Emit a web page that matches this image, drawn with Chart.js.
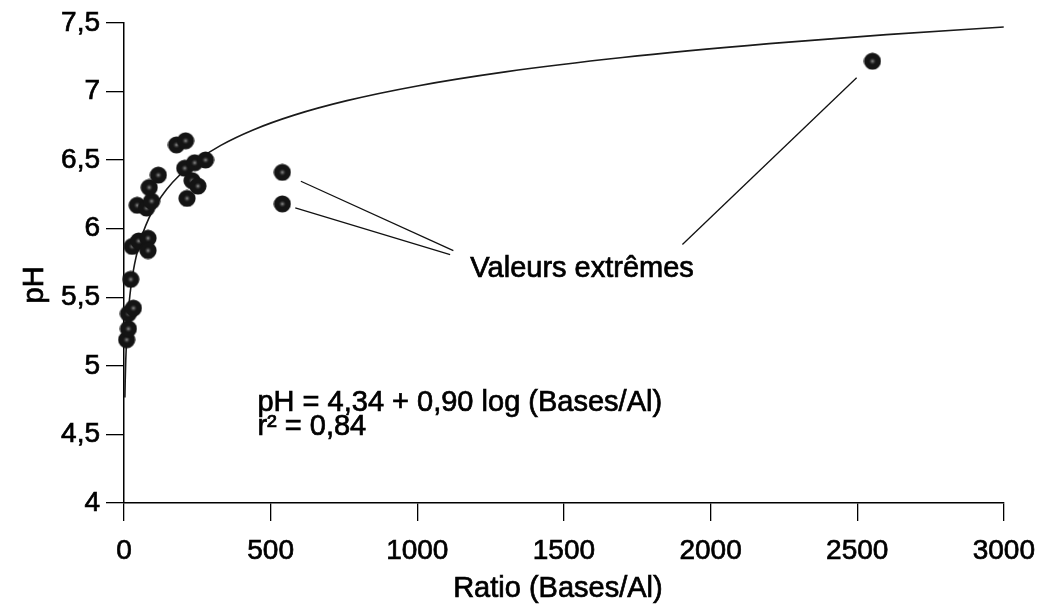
<!DOCTYPE html>
<html>
<head>
<meta charset="utf-8">
<script src="https://cdn.jsdelivr.net/npm/chart.js@4.4.0/dist/chart.umd.min.js"></script>
<style>
  html, body { margin: 0; padding: 0; background: #fff; }
  #wrap { width: 1048px; height: 610px; }
</style>
</head>
<body>
<div id="wrap"><canvas id="phChart"></canvas></div>
<script>
// samples: exchangeable bases / Al ratio against soil pH
const ratio = [9, 15, 15, 32, 23, 28, 50, 82, 82, 45, 77, 94, 86, 117, 179, 210, 207, 215, 232, 252, 241, 278, 540, 540, 2552];
const ph = [5.19, 5.27, 5.38, 5.42, 5.63, 5.87, 5.91, 5.93, 5.84, 6.17, 6.15, 6.20, 6.30, 6.39, 6.61, 6.64, 6.44, 6.22, 6.35, 6.31, 6.48, 6.50, 6.41, 6.18, 7.22];

// fitted curve pH = 4,34 + 0,90 log(ratio)
const fitA = 4.34;
const fitB = 0.90;
const curveRatio = [3, 4, 6, 8, 11, 15, 20, 27, 36, 48, 64, 85, 110, 145, 190, 250, 330, 440, 580, 760, 1000, 1300, 1700, 2200, 2600, 3000];

const xTicks = [0, 500, 1000, 1500, 2000, 2500, 3000];
const yTicks = [4, 4.5, 5, 5.5, 6, 6.5, 7, 7.5];

// leader lines for the outlying samples, in axis units
const leaderFrom = [[603, 6.345], [584, 6.151], [1904, 5.884]];
const leaderTo = [[1123, 5.84], [1112, 5.81], [2498, 7.10]];
const outlierLabel = 'Valeurs extrêmes';
const outlierLabelAt = [1181, 5.644];
const fitLines = ['pH = 4,34 + 0,90 log (Bases/Al)', 'r² = 0,84'];
const fitLinesAt = [[455, 4.669], [455, 4.494]];
const xTitle = 'Ratio (Bases/Al)';
const yTitle = 'pH';

const FONT = '"Liberation Sans", Arial, Helvetica, sans-serif';

function dotImage() {
  const c = document.createElement('canvas');
  c.width = 18; c.height = 18;
  const g = c.getContext('2d');
  g.fillStyle = '#141414';
  g.beginPath();
  g.arc(9, 9, 8.6, 0, Math.PI * 2);
  g.fill();
  const grad = g.createRadialGradient(9, 9, 0, 9, 9, 4);
  grad.addColorStop(0, 'rgba(170,170,170,0.9)');
  grad.addColorStop(1, 'rgba(20,20,20,0)');
  g.fillStyle = grad;
  g.beginPath();
  g.arc(9, 9, 4, 0, Math.PI * 2);
  g.fill();
  return c;
}

function heavyText(ctx, t, px, py) {
  ctx.fillText(t, px, py);
  ctx.strokeText(t, px, py);
}

const notes = {
  id: 'notes',
  afterDatasetsDraw(chart) {
    const { ctx, chartArea, scales: { x, y } } = chart;
    ctx.save();
    ctx.strokeStyle = '#111';
    ctx.lineWidth = 1.3;
    leaderFrom.forEach((p, i) => {
      const q = leaderTo[i];
      ctx.beginPath();
      ctx.moveTo(x.getPixelForValue(p[0]), y.getPixelForValue(p[1]));
      ctx.lineTo(x.getPixelForValue(q[0]), y.getPixelForValue(q[1]));
      ctx.stroke();
    });
    ctx.fillStyle = '#000';
    ctx.strokeStyle = '#000';
    ctx.lineWidth = 0.7;
    ctx.font = '29px ' + FONT;
    ctx.textAlign = 'left';
    ctx.textBaseline = 'alphabetic';
    heavyText(ctx, outlierLabel, x.getPixelForValue(outlierLabelAt[0]), y.getPixelForValue(outlierLabelAt[1]));
    fitLines.forEach((t, i) => {
      heavyText(ctx, t, x.getPixelForValue(fitLinesAt[i][0]), y.getPixelForValue(fitLinesAt[i][1]));
    });
    // axis titles
    ctx.textAlign = 'center';
    ctx.textBaseline = 'middle';
    heavyText(ctx, xTitle, (chartArea.left + chartArea.right) / 2 - 6, x.bottom - 21);
    ctx.translate(35, y.getPixelForValue(5.59));
    ctx.rotate(-Math.PI / 2);
    heavyText(ctx, yTitle, 0, 0);
    ctx.restore();
  }
};

const dot = dotImage();
const tickFont = { family: FONT, size: 28 };

new Chart(document.getElementById('phChart'), {
  type: 'scatter',
  data: {
    datasets: [
      {
        data: ratio.map((r, i) => ({ x: r, y: ph[i] })),
        pointStyle: dot,
        pointRadius: 9,
        clip: false
      },
      {
        type: 'line',
        data: curveRatio.map(r => ({ x: r, y: fitA + fitB * Math.log10(r) })),
        borderColor: '#1a1a1a',
        borderWidth: 1.6,
        pointRadius: 0,
        fill: false,
        cubicInterpolationMode: 'monotone'
      }
    ]
  },
  options: {
    responsive: true,
    maintainAspectRatio: false,
    animation: false,
    layout: { padding: { left: 10, right: 40, top: 22, bottom: 0 } },
    plugins: { legend: { display: false }, tooltip: { enabled: false } },
    scales: {
      x: {
        type: 'linear',
        min: 0,
        max: 3000,
        afterBuildTicks: s => { s.ticks = xTicks.map(v => ({ value: v })); },
        afterFit: s => { s.height = 107; },
        ticks: {
          color: '#000', font: tickFont, padding: 13, maxRotation: 0, autoSkip: false,
          textStrokeColor: '#000', textStrokeWidth: 0.7,
          callback: v => String(v)
        },
        grid: { drawOnChartArea: false, tickLength: 18, color: '#000', lineWidth: 1.3 },
        border: { color: '#000', width: 1.5 }
      },
      y: {
        min: 4,
        max: 7.5,
        afterBuildTicks: s => { s.ticks = yTicks.map(v => ({ value: v })); },
        afterFit: s => { s.width = 114; },
        ticks: {
          color: '#000', font: tickFont, padding: 6, autoSkip: false,
          textStrokeColor: '#000', textStrokeWidth: 0.7,
          callback: v => String(v).replace('.', ',')
        },
        grid: { drawOnChartArea: false, tickLength: 18, color: '#000', lineWidth: 1.3 },
        border: { color: '#000', width: 1.5 }
      }
    }
  },
  plugins: [notes]
});
</script>
</body>
</html>
